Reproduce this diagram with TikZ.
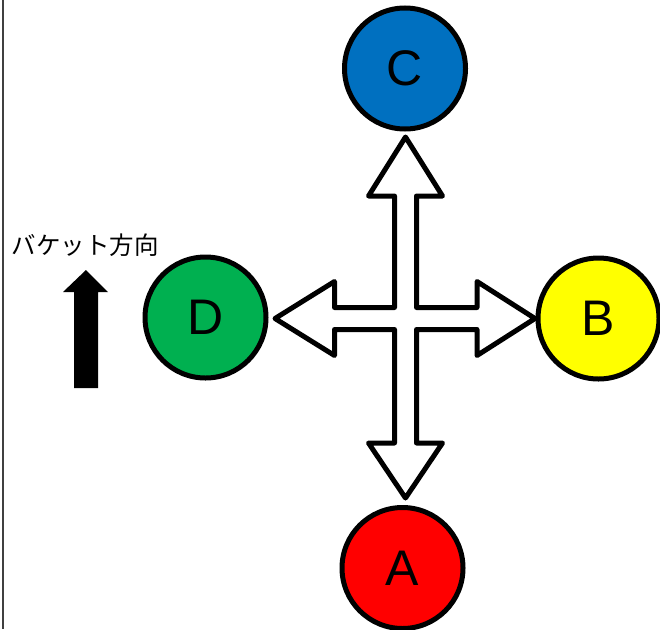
\documentclass[tikz,border=0pt]{standalone}
\usepackage{fontspec}
\setmainfont{Liberation Sans}
\newfontfamily\jpfont{Noto Sans CJK JP}
\definecolor{cblue}{HTML}{0070C0}
\definecolor{byellow}{HTML}{FFFF00}
\definecolor{dgreen}{HTML}{00B050}
\definecolor{ared}{HTML}{FF0000}
\begin{document}
\begin{tikzpicture}[x=1pt,y=-1pt,
  ball/.style={circle,draw=black,line width=5pt,minimum size=121pt,inner sep=0pt,font=\fontsize{50}{60}\selectfont},
  crossarrow/.style={draw=black,fill=white,line width=5pt,line join=round},
  dirarrow/.style={fill=black}]
\useasboundingbox (0,0) rectangle (660,629);
\clip (0,0) rectangle (660,629);
\draw[black!75,line width=1.5pt] (3,0) -- (3,629);
\node[ball,fill=cblue] (C) at (405,68.5) {C};
\node[ball,fill=byellow] (B) at (598.5,318.5) {B};
\node[ball,fill=dgreen] (D) at (205.5,317.5) {D};
\node[ball,fill=ared] (A) at (402.5,568) {A};
\coordinate (X) at (405.5,318.5);
\begin{scope}[shift={(X)}]
\draw[crossarrow] (-11,-11) -- (-11,-122.5) -- (-37,-122.5) -- (0,-181.5) -- (37,-122.5) -- (11,-122.5) -- (11,-11)
  -- (71.5,-11) -- (71.5,-37) -- (129.5,0) -- (71.5,37) -- (71.5,11) -- (11,11)
  -- (11,124.5) -- (37,124.5) -- (0,179.5) -- (-37,124.5) -- (-11,124.5) -- (-11,11)
  -- (-71,11) -- (-71,37) -- (-130.5,0) -- (-71,-37) -- (-71,-11) -- cycle;
\end{scope}
\fill[dirarrow] (86,270) -- (108,292) -- (98,292) -- (98,388) -- (74,388) -- (74,292) -- (63,292) -- cycle;
\node[font=\jpfont\fontsize{24.5}{29}\selectfont] (lbl) at (85,245) {バケット方向};
\end{tikzpicture}
\end{document}
